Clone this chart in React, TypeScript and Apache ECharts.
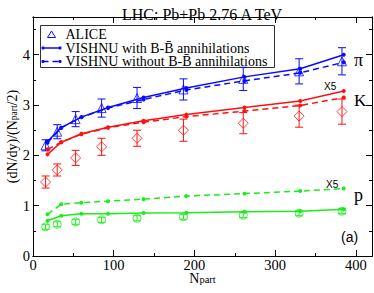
import React, { useEffect, useRef } from "react";
import * as echarts from "echarts";

// ALICE centralities (N_part)
const aliceNpart = [15.6, 30, 52.8, 85, 128.9, 186.4, 260.5, 329.7, 382.8];
const alicePion = [2.2, 2.47, 2.72, 2.94, 3.14, 3.31, 3.52, 3.67, 3.87];
const alicePionErr = [0.11, 0.14, 0.15, 0.18, 0.21, 0.21, 0.23, 0.25, 0.27];
const aliceKaon = [1.47, 1.71, 1.95, 2.17, 2.34, 2.5, 2.64, 2.78, 2.87];
const aliceKaonErr = [0.12, 0.12, 0.15, 0.17, 0.16, 0.22, 0.21, 0.22, 0.25];
const aliceProton = [0.58, 0.63, 0.68, 0.72, 0.75, 0.78, 0.81, 0.85, 0.89];
const aliceProtonErr = [0.05, 0.05, 0.05, 0.05, 0.05, 0.05, 0.05, 0.05, 0.05];

// VISHNU centralities (N_part)
const vishnuNpart = [18, 35, 60, 93, 137, 190, 262, 331, 385];
const pionWith = [2.28, 2.55, 2.76, 2.95, 3.15, 3.34, 3.56, 3.72, 4.0];
const pionWithout = [2.25, 2.55, 2.76, 2.94, 3.11, 3.3, 3.48, 3.64, 3.85];
const kaonWith = [2.02, 2.26, 2.43, 2.56, 2.69, 2.81, 2.95, 3.08, 3.28];
const kaonWithout = [2.12, 2.26, 2.42, 2.55, 2.66, 2.77, 2.88, 2.99, 3.15];
const protonWith = [0.7, 0.8, 0.84, 0.84, 0.855, 0.86, 0.88, 0.89, 0.93];
const protonWithout = [0.83, 1.03, 1.06, 1.09, 1.13, 1.19, 1.24, 1.29, 1.34];

const BLUE = "#0a0aff";
const RED = "#ff1010";
const GREEN = "#18ee18";
const SERIF = "Liberation Serif";
const SANS = "Liberation Sans";

const pair = (xs: number[], ys: number[]) => xs.map((x, i) => [x, ys[i]]);
const triple = (xs: number[], ys: number[], es: number[]) => xs.map((x, i) => [x, ys[i], es[i]]);

function errorSeries(data: number[][], color: string) {
  return {
    type: "custom",
    xAxisIndex: 0,
    yAxisIndex: 0,
    data,
    z: 3,
    renderItem: (params: any, api: any) => {
      const x = api.value(0);
      const y = api.value(1);
      const e = api.value(2);
      const top = api.coord([x, y + e]);
      const bot = api.coord([x, y - e]);
      const hw = 4;
      const st = { stroke: color, lineWidth: 1 };
      return {
        type: "group",
        children: [
          { type: "line", shape: { x1: top[0], y1: top[1], x2: bot[0], y2: bot[1] }, style: st },
          { type: "line", shape: { x1: top[0] - hw, y1: top[1], x2: top[0] + hw, y2: top[1] }, style: st },
          { type: "line", shape: { x1: bot[0] - hw, y1: bot[1], x2: bot[0] + hw, y2: bot[1] }, style: st },
        ],
      };
    },
  };
}

function scatterSeries(name: string, data: number[][], color: string, symbol: string, size: number) {
  return {
    name,
    type: "scatter",
    xAxisIndex: 0,
    yAxisIndex: 0,
    data,
    symbol,
    symbolSize: size,
    z: 4,
    itemStyle: { color: "rgba(0,0,0,0)", borderColor: color, borderWidth: 1 },
  };
}

function lineSeries(data: number[][], color: string, dashed: boolean) {
  return {
    type: "line",
    xAxisIndex: 0,
    yAxisIndex: 0,
    data,
    symbol: "circle",
    symbolSize: 4,
    showSymbol: true,
    z: 5,
    itemStyle: { color },
    lineStyle: { color, width: 1.5, type: dashed ? [6, 4] : "solid" },
  };
}

function xAxisDef(position: string, interval: number, len: number, labels: boolean) {
  return {
    type: "value",
    position,
    min: 0,
    max: 420,
    interval,
    axisLine: { show: true, onZero: false, lineStyle: { color: "#000", width: 1 } },
    axisTick: { show: true, inside: true, length: len, lineStyle: { color: "#000" } },
    axisLabel: {
      show: labels,
      color: "#000",
      fontFamily: SERIF,
      fontSize: 14.5,
      lineHeight: 12,
      margin: 3,
      formatter: (v: number) => (v % 100 === 0 && v <= 400 ? String(v) : ""),
    },
    splitLine: { show: false },
  };
}

function yAxisDef(position: string, interval: number, len: number, labels: boolean) {
  return {
    type: "value",
    position,
    min: 0,
    max: 4.75,
    interval,
    axisLine: { show: true, onZero: false, lineStyle: { color: "#000", width: 1 } },
    axisTick: { show: true, inside: true, length: len, lineStyle: { color: "#000" } },
    axisLabel: {
      show: labels,
      color: "#000",
      fontFamily: SERIF,
      fontSize: 14.5,
      margin: 3,
      formatter: (v: number) => (Number.isInteger(v) && v <= 4 ? String(v) : ""),
    },
    splitLine: { show: false },
  };
}

function label(x: number, y: number, text: string, size: number, family: string) {
  return { type: "text", x, y, style: { text, fontFamily: family, fontSize: size, fill: "#000" } };
}

export default function App() {
  const ref = useRef<HTMLDivElement>(null);

  useEffect(() => {
    if (!ref.current) return;
    const chart = echarts.init(ref.current, undefined, { renderer: "svg" });

    const xMain: any = xAxisDef("bottom", 100, 6, true);
    xMain.name = "{n|N}{s|part}";
    xMain.nameLocation = "middle";
    xMain.nameGap = 15;
    xMain.nameMoveOverlap = false;
    xMain.nameTextStyle = {
      rich: {
        n: { fontFamily: SERIF, fontSize: 14, color: "#000", lineHeight: 14, verticalAlign: "top" },
        s: { fontFamily: SERIF, fontSize: 10.5, color: "#000", lineHeight: 10.5, verticalAlign: "bottom", padding: [9, 0, 0, 0] },
      },
    };
    const yMain: any = yAxisDef("left", 1, 6, true);
    yMain.name = "{a|(dN/dy)/(N}{s|part}{a|/2)}";
    yMain.nameLocation = "middle";
    yMain.nameGap = 14;
    yMain.nameMoveOverlap = false;
    yMain.nameRotate = 90;
    yMain.nameTextStyle = {
      rich: {
        a: { fontFamily: SERIF, fontSize: 14, color: "#000", lineHeight: 14, verticalAlign: "top" },
        s: { fontFamily: SERIF, fontSize: 9.5, color: "#000", lineHeight: 9.5, verticalAlign: "bottom", padding: [8, 0, 0, 0] },
      },
    };

    const legendX = 40;
    const legendY = 25;
    const LF = 14;

    const option: any = {
      animation: false,
      backgroundColor: "#fff",
      title: {
        text: "LHC: Pb+Pb 2.76 A TeV",
        left: 117,
        top: 1,
        textStyle: { fontFamily: SERIF, fontSize: 16, fontWeight: "normal", color: "#000" },
      },
      grid: { left: 33, right: 2, top: 17, bottom: 37, containLabel: false, outerBoundsMode: "none", show: false },
      xAxis: [
        xMain,
        xAxisDef("bottom", 50, 3, false),
        xAxisDef("top", 100, 6, false),
        xAxisDef("top", 50, 3, false),
      ],
      yAxis: [
        yMain,
        yAxisDef("left", 0.5, 3, false),
        yAxisDef("right", 1, 6, false),
        yAxisDef("right", 0.5, 3, false),
      ],
      series: [
        lineSeries(pair(vishnuNpart, pionWith), BLUE, false),
        lineSeries(pair(vishnuNpart, pionWithout), BLUE, true),
        lineSeries(pair(vishnuNpart, kaonWith), RED, false),
        lineSeries(pair(vishnuNpart, kaonWithout), RED, true),
        lineSeries(pair(vishnuNpart, protonWith), GREEN, false),
        lineSeries(pair(vishnuNpart, protonWithout), GREEN, true),
        errorSeries(triple(aliceNpart, alicePion, alicePionErr), BLUE),
        errorSeries(triple(aliceNpart, aliceKaon, aliceKaonErr), RED),
        errorSeries(triple(aliceNpart, aliceProton, aliceProtonErr), GREEN),
        scatterSeries("ALICE", pair(aliceNpart, alicePion), BLUE, "triangle", 9),
        scatterSeries("ALICE K", pair(aliceNpart, aliceKaon), RED, "diamond", 10),
        scatterSeries("ALICE p", pair(aliceNpart, aliceProton), GREEN, "circle", 8),
      ],
      graphic: [
        {
          type: "group",
          left: legendX,
          top: legendY,
          children: [
            { type: "rect", shape: { x: 0, y: 0, width: 234, height: 42 }, style: { fill: "#fff", stroke: "#333", lineWidth: 1 } },
            { type: "polygon", shape: { points: [[11, 5.5], [7, 12], [15, 12]] }, style: { fill: "none", stroke: BLUE, lineWidth: 1 } },
            { type: "text", x: 25, y: 2, style: { text: "ALICE", fontFamily: SERIF, fontSize: LF, fill: "#000" } },
            { type: "line", shape: { x1: 2, y1: 22.5, x2: 20, y2: 22.5 }, style: { stroke: BLUE, lineWidth: 1.5 } },
            { type: "circle", shape: { cx: 2.5, cy: 22.5, r: 1.6 }, style: { fill: BLUE } },
            { type: "circle", shape: { cx: 19.5, cy: 22.5, r: 1.6 }, style: { fill: BLUE } },
            { type: "text", x: 25, y: 15.5, style: { text: "VISHNU with B-B\u0304 annihilations", fontFamily: SERIF, fontSize: LF, fill: "#000" } },
            { type: "line", shape: { x1: 2, y1: 36, x2: 20, y2: 36 }, style: { stroke: BLUE, lineWidth: 1.5, lineDash: [6, 4] } },
            { type: "circle", shape: { cx: 2.5, cy: 36, r: 1.6 }, style: { fill: BLUE } },
            { type: "circle", shape: { cx: 19.5, cy: 36, r: 1.6 }, style: { fill: BLUE } },
            { type: "text", x: 25, y: 29, style: { text: "VISHNU without B-B\u0304 annihilations", fontFamily: SERIF, fontSize: LF, fill: "#000" } },
          ],
        },
        label(354, 51, "\u03c0", 18, SERIF),
        label(354, 92, "K", 17, SERIF),
        label(354, 186, "p", 18, SERIF),
        label(324, 81, "X5", 10, SANS),
        label(326, 179, "X5", 10, SANS),
        label(341, 230, "(a)", 14, SANS),
      ],
    };

    chart.setOption(option);
    return () => chart.dispose();
  }, []);

  return <div ref={ref} style={{ width: 374, height: 293, position: "absolute", left: 0, top: 0 }} />;
}
